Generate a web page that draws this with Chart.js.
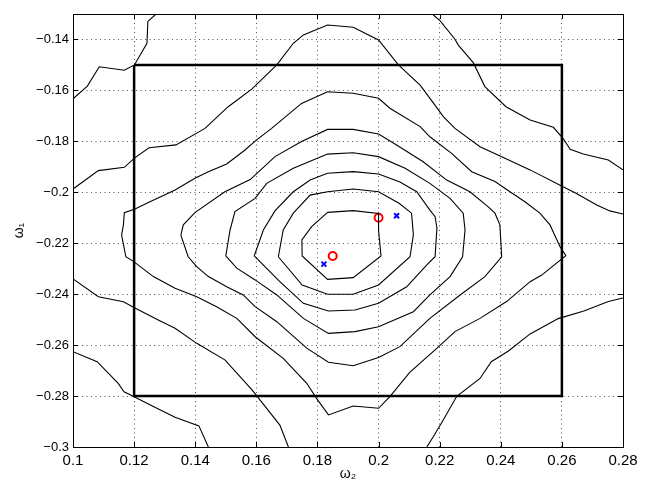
<!DOCTYPE html>
<html><head><meta charset="utf-8">
<script src="https://cdn.jsdelivr.net/npm/chart.js@4.4.1/dist/chart.umd.min.js"></script>
<style>html,body{margin:0;padding:0;background:#fff}canvas{display:block}</style>
</head><body>
<canvas id="c" width="645" height="483"></canvas>
<script>
// Axis ticks
const xTicks = [0.1,0.12,0.14,0.16,0.18,0.2,0.22,0.24,0.26,0.28];
const xTickLabels = ['0.1','0.12','0.14','0.16','0.18','0.2','0.22','0.24','0.26','0.28'];
const yTicks = [-0.3,-0.28,-0.26,-0.24,-0.22,-0.2,-0.18,-0.16,-0.14];
const yTickLabels = ['\u22120.3','\u22120.28','\u22120.26','\u22120.24','\u22120.22','\u22120.2','\u22120.18','\u22120.16','\u22120.14'];

// Contour lines [omega2, omega1]
const ring1 = [[0.1833,-0.2079],[0.1917,-0.2072],[0.2,-0.2083],[0.2,-0.2148],[0.2008,-0.225],[0.1917,-0.2335],[0.1833,-0.2342],[0.175,-0.225],[0.1749,-0.2187],[0.1781,-0.2135],[0.1833,-0.2079]];
const ring2 = [[0.1672,-0.2253],[0.1688,-0.2148],[0.1721,-0.2082],[0.1776,-0.2011],[0.1833,-0.1998],[0.1917,-0.1987],[0.2,-0.1998],[0.2067,-0.2043],[0.2108,-0.2082],[0.2114,-0.2167],[0.2103,-0.2253],[0.2,-0.2364],[0.1917,-0.24],[0.1833,-0.24],[0.175,-0.2364],[0.1672,-0.2253]];
const ring3 = [[0.1593,-0.225],[0.1623,-0.2148],[0.1661,-0.2073],[0.172,-0.1999],[0.1776,-0.1952],[0.1833,-0.1925],[0.1917,-0.1919],[0.2,-0.1928],[0.207,-0.196],[0.2125,-0.1998],[0.2168,-0.207],[0.2185,-0.2096],[0.2191,-0.214],[0.2185,-0.2253],[0.2158,-0.2285],[0.2092,-0.2371],[0.2,-0.2436],[0.1923,-0.2462],[0.1836,-0.2466],[0.1754,-0.2436],[0.1677,-0.2351],[0.1593,-0.225]];
const ring4 = [[0.15,-0.225],[0.1514,-0.2148],[0.153,-0.2076],[0.1596,-0.2024],[0.1634,-0.1965],[0.1721,-0.1906],[0.1833,-0.185],[0.1917,-0.1845],[0.2,-0.186],[0.2087,-0.1906],[0.2168,-0.1965],[0.2234,-0.2024],[0.2277,-0.2082],[0.2283,-0.2148],[0.2275,-0.2253],[0.2234,-0.2331],[0.2168,-0.2403],[0.2114,-0.2469],[0.2,-0.2528],[0.1923,-0.2547],[0.1836,-0.2554],[0.1754,-0.2495],[0.1667,-0.2403],[0.1596,-0.2344],[0.1536,-0.2298],[0.15,-0.225]];
const ring5 = [[0.1353,-0.2168],[0.1361,-0.2128],[0.1399,-0.208],[0.1497,-0.1998],[0.158,-0.195],[0.1661,-0.186],[0.1748,-0.1801],[0.1833,-0.1753],[0.1917,-0.1753],[0.2,-0.1771],[0.2059,-0.1814],[0.2146,-0.188],[0.2223,-0.1952],[0.2299,-0.1998],[0.2359,-0.2057],[0.2381,-0.2082],[0.2397,-0.2128],[0.2403,-0.2253],[0.2348,-0.2331],[0.2267,-0.2403],[0.2168,-0.2495],[0.207,-0.2606],[0.2,-0.2649],[0.1917,-0.2681],[0.1836,-0.2667],[0.1765,-0.2612],[0.1667,-0.2508],[0.1596,-0.2449],[0.1557,-0.2403],[0.1503,-0.2371],[0.1443,-0.2331],[0.1405,-0.2292],[0.1377,-0.2253],[0.1353,-0.2168]];
const ring6 = [[0.1159,-0.2168],[0.1173,-0.2253],[0.12,-0.2273],[0.1263,-0.2331],[0.1334,-0.2377],[0.1405,-0.241],[0.147,-0.2449],[0.1536,-0.2495],[0.1596,-0.2567],[0.1688,-0.2652],[0.1765,-0.275],[0.1797,-0.2809],[0.1836,-0.2874],[0.1917,-0.2839],[0.2,-0.2848],[0.2037,-0.2802],[0.2102,-0.2707],[0.2185,-0.2619],[0.225,-0.2547],[0.2332,-0.2495],[0.2419,-0.2429],[0.2496,-0.2351],[0.2534,-0.2325],[0.2613,-0.2249],[0.2594,-0.2214],[0.2561,-0.2128],[0.2528,-0.2082],[0.2479,-0.2037],[0.243,-0.1998],[0.2381,-0.1958],[0.2305,-0.1919],[0.2239,-0.1847],[0.2168,-0.1782],[0.2136,-0.1742],[0.2037,-0.167],[0.2,-0.1631],[0.1917,-0.1611],[0.1833,-0.1605],[0.1748,-0.1651],[0.165,-0.1749],[0.1596,-0.1799],[0.1563,-0.1834],[0.1503,-0.1889],[0.1443,-0.1919],[0.1399,-0.1945],[0.1334,-0.1991],[0.1252,-0.2037],[0.1203,-0.2066],[0.1168,-0.208],[0.1165,-0.2128],[0.1159,-0.2168]];
const ring7Top = [[0.1,-0.1987],[0.1083,-0.1915],[0.1168,-0.1902],[0.1203,-0.1864],[0.1249,-0.1825],[0.1337,-0.1814],[0.1432,-0.1749],[0.1508,-0.1664],[0.1586,-0.1594],[0.1667,-0.15],[0.1721,-0.1415],[0.1754,-0.1382],[0.1833,-0.1343],[0.1917,-0.1352],[0.2,-0.1402],[0.2065,-0.15],[0.2136,-0.1579],[0.2175,-0.1642],[0.2212,-0.1703],[0.225,-0.1749],[0.2332,-0.1821],[0.2403,-0.186],[0.2496,-0.1912],[0.2599,-0.1975],[0.2643,-0.2002],[0.2714,-0.205],[0.2757,-0.2073],[0.28,-0.2085]];
const ring7Bottom = [[0.1,-0.234],[0.1083,-0.241],[0.1165,-0.243],[0.1201,-0.2453],[0.1279,-0.2501],[0.1334,-0.2534],[0.1405,-0.2593],[0.1497,-0.2658],[0.1586,-0.2776],[0.1677,-0.2914],[0.1705,-0.3]];
const ring8TopLeft = [[0.1,-0.1633],[0.1047,-0.1583],[0.1086,-0.1507],[0.1168,-0.1521],[0.1201,-0.15],[0.1242,-0.1415],[0.1245,-0.1329],[0.1272,-0.13]];
const ring8TopRight = [[0.2176,-0.13],[0.2201,-0.1326],[0.225,-0.1399],[0.2261,-0.1422],[0.231,-0.1491],[0.2348,-0.1585],[0.2417,-0.1664],[0.2496,-0.1716],[0.2572,-0.1745],[0.2603,-0.1787],[0.2627,-0.1831],[0.267,-0.185],[0.2752,-0.1873],[0.28,-0.1912]];
const ring8BottomLeft = [[0.1,-0.2626],[0.1079,-0.2665],[0.1148,-0.275],[0.1167,-0.2783],[0.12,-0.2803],[0.1263,-0.2841],[0.1334,-0.2883],[0.1412,-0.2917],[0.1443,-0.3]];
const ring8BottomRight = [[0.2158,-0.3],[0.2179,-0.296],[0.2207,-0.2904],[0.2256,-0.2801],[0.2332,-0.2731],[0.2369,-0.2665],[0.2425,-0.2623],[0.2496,-0.2556],[0.2588,-0.2496],[0.2672,-0.2466],[0.2752,-0.2429],[0.28,-0.2415]];

// Search box
const boxCorners = [[0.12,-0.15],[0.26,-0.15],[0.26,-0.28],[0.12,-0.28],[0.12,-0.15]];
// Estimates
const redCircles = [[0.2,-0.21],[0.185,-0.225]];
const blueCrosses = [[0.2059,-0.2092],[0.1821,-0.2282]];

const toXY = arr => arr.map(p => ({x: p[0], y: p[1]}));
const contours = [ring1, ring2, ring3, ring4, ring5, ring6, ring7Top, ring7Bottom, ring8TopLeft, ring8TopRight, ring8BottomLeft, ring8BottomRight];

const datasets = contours.map(c => ({
  data: toXY(c), showLine: true, borderColor: '#000', borderWidth: 1.1,
  pointRadius: 0, tension: 0, fill: false
}));
datasets.push({data: toXY(boxCorners), showLine: true, borderColor: '#000', borderWidth: 2.5, pointRadius: 0, tension: 0, fill: false});
datasets.push({data: toXY(blueCrosses), showLine: false, pointStyle: 'crossRot', pointRadius: 3.5, borderColor: '#0000ff', backgroundColor: '#0000ff', borderWidth: 2});
datasets.push({data: toXY(redCircles), showLine: false, pointStyle: 'circle', pointRadius: 4, borderColor: '#ff0000', backgroundColor: 'rgba(0,0,0,0)', borderWidth: 2});

const framePlugin = {
  id: 'frame',
  afterDatasetsDraw(chart) {
    const {ctx, chartArea: a, scales} = chart;
    ctx.save();
    ctx.strokeStyle = '#000';
    ctx.lineWidth = 1;
    ctx.beginPath();
    const L = 5;
    scales.x.ticks.forEach(t => {
      const px = Math.round(scales.x.getPixelForValue(t.value)) + 0.5;
      ctx.moveTo(px, a.bottom); ctx.lineTo(px, a.bottom - L);
      ctx.moveTo(px, a.top); ctx.lineTo(px, a.top + L);
    });
    scales.y.ticks.forEach(t => {
      const py = Math.round(scales.y.getPixelForValue(t.value)) + 0.5;
      ctx.moveTo(a.left, py); ctx.lineTo(a.left + L, py);
      ctx.moveTo(a.right, py); ctx.lineTo(a.right - L, py);
    });
    ctx.stroke();
    ctx.strokeRect(Math.round(a.left) + 0.5, Math.round(a.top) + 0.5, Math.round(a.right - a.left), Math.round(a.bottom - a.top));
    ctx.restore();
  }
};

const fam = "'Liberation Sans', Arial, Helvetica, sans-serif";

new Chart(document.getElementById('c'), {
  type: 'scatter',
  data: {datasets},
  options: {
    responsive: false, animation: false, devicePixelRatio: 1,
    layout: {padding: {left: 0, right: 22, top: 14, bottom: 0}},
    plugins: {legend: {display: false}, tooltip: {enabled: false}},
    scales: {
      x: {
        type: 'linear', min: 0.1, max: 0.28,
        afterBuildTicks: s => { s.ticks = xTicks.map(v => ({value: v})); },
        afterFit: s => { s.height = 36; },
        ticks: {autoSkip: false, maxRotation: 0, padding: 5, color: '#000', font: {family: fam, size: 15},
          callback: (v, i) => xTickLabels[i]},
        grid: {color: '#555', lineWidth: 1, drawTicks: false},
        border: {display: false, dash: [1, 3.5]},
        title: {display: true, text: '\u03c9\u2082', color: '#000', font: {family: fam, size: 14}, padding: {top: 0, bottom: 0}}
      },
      y: {
        type: 'linear', min: -0.3, max: -0.13,
        afterBuildTicks: s => { s.ticks = yTicks.map(v => ({value: v})); },
        afterFit: s => { s.width = 73; },
        ticks: {autoSkip: false, padding: 4, color: '#000', font: {family: fam, size: 13},
          callback: (v, i) => yTickLabels[i]},
        grid: {color: '#555', lineWidth: 1, drawTicks: false},
        border: {display: false, dash: [1, 3.5]},
        title: {display: true, text: '\u03c9\u2081', color: '#000', font: {family: fam, size: 14}, padding: {top: 11, bottom: 0}}
      }
    }
  },
  plugins: [framePlugin]
});
</script>
</body></html>
